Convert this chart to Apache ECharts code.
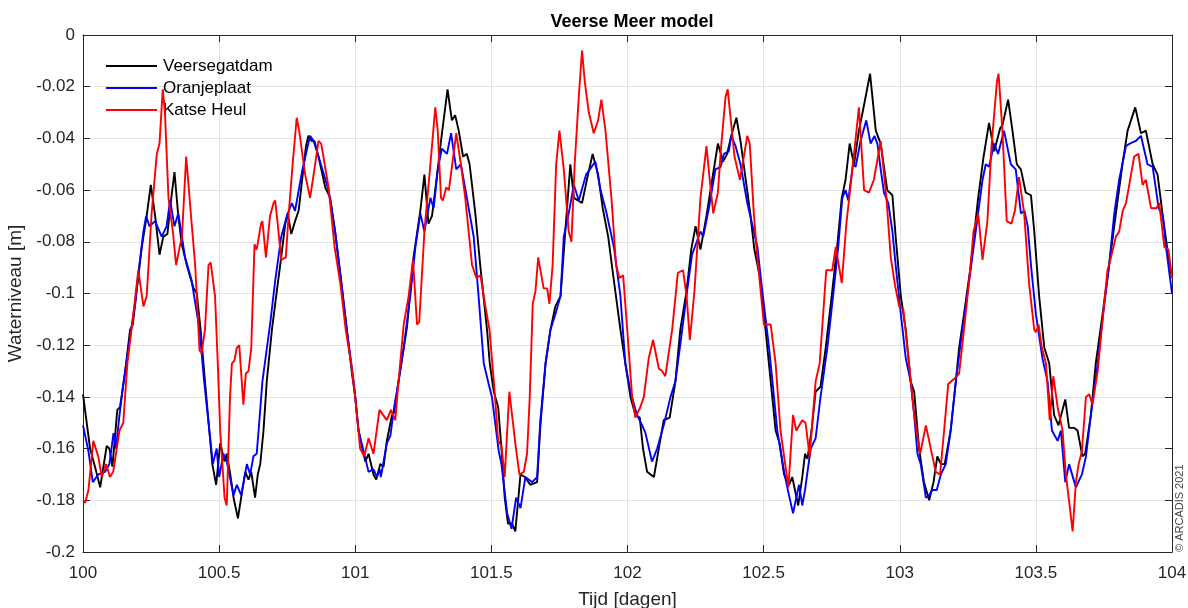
<!DOCTYPE html>
<html>
<head>
<meta charset="utf-8">
<script src="https://cdn.jsdelivr.net/npm/echarts@6/dist/echarts.min.js"></script>
<style>
html,body{margin:0;padding:0;background:#fff;}
#chart{width:1188px;height:608px;}
</style>
</head>
<body>
<div id="chart"></div>
<script>
// ---- data (time in days, water level in m) ----
const seriesNames = ['Veersegatdam', 'Oranjeplaat', 'Katse Heul'];
const xTicks = [100, 100.5, 101, 101.5, 102, 102.5, 103, 103.5, 104];
const yTicks = [0, -0.02, -0.04, -0.06, -0.08, -0.1, -0.12, -0.14, -0.16, -0.18, -0.2];

const veersegatdamT = [100.000,100.026,100.044,100.063,100.087,100.097,100.108,100.126,100.136,100.154,100.173,100.183,100.197,100.216,100.234,100.249,100.265,100.281,100.295,100.310,100.322,100.336,100.350,100.363,100.381,100.406,100.418,100.432,100.448,100.464,100.475,100.489,100.504,100.520,100.528,100.541,100.553,100.569,100.581,100.596,100.608,100.618,100.632,100.642,100.651,100.663,100.675,100.694,100.712,100.728,100.743,100.752,100.765,100.779,100.792,100.806,100.819,100.828,100.840,100.850,100.865,100.890,100.908,100.926,100.948,100.969,100.988,101.000,101.012,101.037,101.049,101.067,101.077,101.092,101.104,101.116,101.135,101.143,101.159,101.178,101.190,101.202,101.214,101.239,101.254,101.269,101.282,101.303,101.315,101.339,101.355,101.367,101.380,101.396,101.410,101.420,101.441,101.459,101.484,101.494,101.509,101.525,101.537,101.549,101.561,101.576,101.588,101.607,101.623,101.643,101.668,101.680,101.699,101.717,101.735,101.754,101.770,101.790,101.803,101.833,101.855,101.872,101.892,101.909,101.929,101.950,101.974,101.992,102.011,102.029,102.045,102.057,102.072,102.097,102.115,102.133,102.155,102.176,102.194,102.217,102.234,102.250,102.268,102.290,102.311,102.332,102.351,102.366,102.381,102.400,102.415,102.433,102.452,102.466,102.489,102.507,102.526,102.544,102.559,102.575,102.593,102.605,102.627,102.642,102.652,102.661,102.676,102.691,102.709,102.728,102.750,102.771,102.787,102.801,102.816,102.832,102.850,102.869,102.891,102.912,102.930,102.954,102.973,102.985,103.004,103.022,103.040,103.053,103.071,103.089,103.108,103.124,103.138,103.151,103.165,103.187,103.206,103.218,103.236,103.261,103.288,103.308,103.328,103.347,103.369,103.377,103.398,103.414,103.430,103.445,103.463,103.482,103.494,103.512,103.531,103.549,103.567,103.583,103.608,103.622,103.641,103.653,103.671,103.681,103.702,103.720,103.745,103.769,103.794,103.818,103.837,103.865,103.886,103.904,103.929,103.947,103.965,103.987,104.000];
const veersegatdamV = [-0.139,-0.160,-0.167,-0.175,-0.159,-0.160,-0.167,-0.145,-0.144,-0.131,-0.114,-0.112,-0.099,-0.082,-0.070,-0.058,-0.070,-0.085,-0.078,-0.077,-0.065,-0.053,-0.070,-0.081,-0.089,-0.098,-0.100,-0.114,-0.134,-0.153,-0.166,-0.174,-0.158,-0.165,-0.162,-0.170,-0.179,-0.187,-0.179,-0.169,-0.172,-0.169,-0.179,-0.170,-0.166,-0.153,-0.134,-0.114,-0.099,-0.086,-0.073,-0.069,-0.077,-0.072,-0.068,-0.055,-0.043,-0.039,-0.041,-0.041,-0.047,-0.059,-0.063,-0.076,-0.095,-0.114,-0.131,-0.140,-0.153,-0.165,-0.162,-0.170,-0.172,-0.166,-0.167,-0.157,-0.147,-0.146,-0.134,-0.121,-0.113,-0.099,-0.086,-0.068,-0.054,-0.073,-0.070,-0.052,-0.041,-0.021,-0.033,-0.031,-0.037,-0.047,-0.046,-0.050,-0.069,-0.089,-0.114,-0.127,-0.138,-0.144,-0.160,-0.179,-0.189,-0.189,-0.192,-0.170,-0.171,-0.174,-0.173,-0.151,-0.127,-0.114,-0.105,-0.101,-0.078,-0.050,-0.063,-0.065,-0.054,-0.046,-0.054,-0.067,-0.078,-0.095,-0.114,-0.127,-0.140,-0.147,-0.148,-0.160,-0.169,-0.171,-0.160,-0.149,-0.148,-0.134,-0.114,-0.099,-0.083,-0.074,-0.083,-0.070,-0.056,-0.042,-0.049,-0.046,-0.039,-0.032,-0.041,-0.055,-0.070,-0.083,-0.095,-0.114,-0.134,-0.153,-0.158,-0.170,-0.174,-0.171,-0.182,-0.171,-0.162,-0.164,-0.153,-0.138,-0.136,-0.121,-0.101,-0.081,-0.063,-0.056,-0.042,-0.050,-0.037,-0.027,-0.015,-0.037,-0.042,-0.060,-0.062,-0.078,-0.101,-0.114,-0.134,-0.138,-0.160,-0.173,-0.180,-0.173,-0.163,-0.166,-0.166,-0.153,-0.134,-0.121,-0.108,-0.089,-0.063,-0.047,-0.034,-0.045,-0.036,-0.035,-0.025,-0.037,-0.050,-0.052,-0.061,-0.062,-0.076,-0.101,-0.121,-0.127,-0.147,-0.151,-0.141,-0.152,-0.152,-0.153,-0.163,-0.162,-0.147,-0.127,-0.108,-0.089,-0.069,-0.050,-0.037,-0.028,-0.038,-0.037,-0.050,-0.054,-0.069,-0.086,-0.094];

const oranjeplaatT = [100.000,100.020,100.036,100.056,100.081,100.097,100.112,100.121,100.134,100.148,100.167,100.191,100.207,100.222,100.232,100.244,100.265,100.289,100.307,100.320,100.336,100.350,100.375,100.399,100.428,100.445,100.464,100.477,100.491,100.500,100.516,100.528,100.553,100.565,100.581,100.602,100.614,100.626,100.638,100.645,100.659,100.687,100.706,100.728,100.749,100.767,100.779,100.806,100.834,100.847,100.865,100.902,100.926,100.948,100.969,100.994,101.012,101.049,101.067,101.080,101.090,101.094,101.116,101.129,101.143,101.159,101.178,101.202,101.221,101.239,101.254,101.276,101.288,101.303,101.318,101.337,101.352,101.371,101.388,101.410,101.435,101.453,101.472,101.490,101.502,101.527,101.537,101.558,101.574,101.591,101.607,101.625,101.650,101.668,101.680,101.699,101.717,101.735,101.754,101.766,101.784,101.803,101.821,101.848,101.868,101.882,101.901,101.921,101.950,101.974,101.992,102.011,102.035,102.054,102.066,102.090,102.109,102.133,102.158,102.176,102.201,102.219,102.237,102.268,102.278,102.299,102.323,102.342,102.354,102.372,102.381,102.397,102.415,102.440,102.464,102.477,102.495,102.520,102.538,102.550,102.575,102.593,102.608,102.630,102.642,102.652,102.673,102.691,102.709,102.734,102.755,102.774,102.789,102.801,102.811,102.828,102.838,102.856,102.877,102.893,102.907,102.918,102.930,102.942,102.958,102.973,102.985,103.004,103.022,103.040,103.053,103.065,103.077,103.096,103.108,103.120,103.136,103.151,103.169,103.187,103.206,103.230,103.255,103.279,103.304,103.316,103.328,103.347,103.361,103.383,103.408,103.426,103.445,103.458,103.470,103.482,103.500,103.524,103.543,103.559,103.580,103.592,103.608,103.622,103.647,103.669,103.684,103.702,103.727,103.747,103.769,103.788,103.806,103.831,103.845,103.867,103.886,103.910,103.929,103.951,103.966,103.978,104.000];
const oranjeplaatV = [-0.151,-0.161,-0.173,-0.170,-0.169,-0.166,-0.154,-0.160,-0.147,-0.135,-0.121,-0.104,-0.089,-0.076,-0.070,-0.074,-0.072,-0.078,-0.074,-0.064,-0.074,-0.069,-0.086,-0.095,-0.114,-0.134,-0.153,-0.166,-0.160,-0.171,-0.162,-0.165,-0.178,-0.174,-0.178,-0.166,-0.170,-0.163,-0.162,-0.153,-0.134,-0.112,-0.095,-0.078,-0.070,-0.065,-0.068,-0.052,-0.039,-0.041,-0.047,-0.060,-0.076,-0.095,-0.114,-0.134,-0.153,-0.169,-0.168,-0.171,-0.168,-0.171,-0.158,-0.155,-0.144,-0.134,-0.121,-0.101,-0.082,-0.069,-0.076,-0.063,-0.067,-0.052,-0.044,-0.046,-0.038,-0.052,-0.050,-0.063,-0.078,-0.101,-0.127,-0.135,-0.140,-0.161,-0.166,-0.185,-0.191,-0.179,-0.183,-0.171,-0.173,-0.171,-0.149,-0.127,-0.114,-0.108,-0.101,-0.078,-0.069,-0.058,-0.064,-0.054,-0.051,-0.049,-0.060,-0.068,-0.082,-0.101,-0.127,-0.138,-0.147,-0.151,-0.154,-0.165,-0.160,-0.151,-0.140,-0.134,-0.114,-0.099,-0.085,-0.076,-0.078,-0.067,-0.052,-0.051,-0.046,-0.045,-0.039,-0.043,-0.050,-0.065,-0.076,-0.082,-0.099,-0.121,-0.140,-0.153,-0.169,-0.178,-0.185,-0.174,-0.182,-0.176,-0.160,-0.156,-0.140,-0.121,-0.101,-0.082,-0.063,-0.060,-0.064,-0.050,-0.051,-0.041,-0.033,-0.042,-0.039,-0.042,-0.052,-0.061,-0.065,-0.076,-0.089,-0.108,-0.125,-0.134,-0.147,-0.162,-0.166,-0.179,-0.178,-0.176,-0.176,-0.170,-0.166,-0.153,-0.134,-0.114,-0.095,-0.076,-0.056,-0.050,-0.051,-0.042,-0.046,-0.037,-0.050,-0.052,-0.069,-0.068,-0.074,-0.089,-0.108,-0.125,-0.134,-0.153,-0.157,-0.153,-0.173,-0.166,-0.175,-0.170,-0.163,-0.147,-0.127,-0.108,-0.089,-0.069,-0.056,-0.043,-0.042,-0.041,-0.039,-0.050,-0.051,-0.067,-0.070,-0.082,-0.100];

const katseHeulT = [100.000,100.008,100.020,100.038,100.056,100.069,100.085,100.099,100.111,100.134,100.148,100.163,100.185,100.203,100.222,100.234,100.252,100.271,100.281,100.293,100.301,100.314,100.330,100.342,100.357,100.363,100.379,100.396,100.412,100.428,100.436,100.448,100.461,100.469,100.485,100.495,100.504,100.520,100.528,100.540,100.547,100.556,100.565,100.574,100.589,100.598,100.608,100.618,100.630,100.638,100.654,100.659,100.672,100.687,100.700,100.706,100.718,100.728,100.745,100.755,100.770,100.785,100.794,100.816,100.834,100.850,100.865,100.875,100.902,100.924,100.945,100.965,100.985,101.000,101.018,101.033,101.049,101.067,101.089,101.116,101.131,101.147,101.159,101.178,101.196,101.212,101.227,101.235,101.254,101.276,101.294,101.303,101.315,101.322,101.334,101.344,101.371,101.388,101.404,101.429,101.445,101.460,101.478,101.493,101.509,101.525,101.537,101.549,101.566,101.588,101.603,101.619,101.631,101.641,101.652,101.662,101.672,101.692,101.705,101.713,101.725,101.738,101.750,101.766,101.784,101.794,101.806,101.821,101.833,101.843,101.858,101.876,101.892,101.904,101.919,101.941,101.958,101.970,101.984,101.999,102.017,102.029,102.047,102.060,102.078,102.094,102.115,102.127,102.139,102.164,102.185,102.204,102.217,102.229,102.246,102.268,102.290,102.302,102.315,102.332,102.344,102.360,102.368,102.393,102.413,102.440,102.449,102.464,102.476,102.501,102.526,102.544,102.562,102.591,102.608,102.620,102.642,102.654,102.669,102.691,102.706,102.730,102.752,102.765,102.787,102.804,102.826,102.850,102.869,102.887,102.905,102.930,102.951,102.967,102.983,102.998,103.013,103.034,103.053,103.075,103.096,103.114,103.132,103.148,103.163,103.178,103.200,103.218,103.236,103.255,103.271,103.288,103.304,103.322,103.337,103.357,103.363,103.377,103.393,103.410,103.423,103.438,103.445,103.457,103.475,103.494,103.500,103.510,103.522,103.537,103.551,103.564,103.580,103.598,103.610,103.625,103.635,103.647,103.657,103.669,103.684,103.696,103.708,103.727,103.747,103.763,103.776,103.794,103.806,103.819,103.831,103.843,103.861,103.877,103.892,103.904,103.923,103.943,103.953,103.972,103.987,104.000];
const katseHeulV = [-0.180,-0.181,-0.176,-0.157,-0.163,-0.171,-0.166,-0.171,-0.169,-0.153,-0.150,-0.127,-0.108,-0.091,-0.105,-0.101,-0.069,-0.046,-0.042,-0.021,-0.030,-0.063,-0.076,-0.089,-0.081,-0.079,-0.047,-0.069,-0.089,-0.122,-0.123,-0.114,-0.089,-0.088,-0.101,-0.127,-0.153,-0.179,-0.182,-0.140,-0.127,-0.126,-0.121,-0.120,-0.143,-0.131,-0.130,-0.121,-0.081,-0.083,-0.073,-0.072,-0.086,-0.070,-0.065,-0.064,-0.076,-0.087,-0.086,-0.070,-0.050,-0.032,-0.037,-0.054,-0.063,-0.052,-0.041,-0.042,-0.059,-0.082,-0.096,-0.114,-0.127,-0.140,-0.160,-0.163,-0.156,-0.162,-0.145,-0.149,-0.145,-0.149,-0.134,-0.112,-0.101,-0.087,-0.112,-0.111,-0.076,-0.050,-0.028,-0.037,-0.063,-0.064,-0.059,-0.060,-0.038,-0.050,-0.063,-0.089,-0.094,-0.093,-0.105,-0.114,-0.134,-0.157,-0.159,-0.171,-0.138,-0.158,-0.170,-0.169,-0.162,-0.140,-0.104,-0.099,-0.086,-0.098,-0.098,-0.104,-0.089,-0.050,-0.037,-0.052,-0.076,-0.080,-0.050,-0.024,-0.006,-0.018,-0.030,-0.038,-0.033,-0.025,-0.037,-0.063,-0.089,-0.094,-0.093,-0.114,-0.140,-0.148,-0.144,-0.140,-0.125,-0.118,-0.129,-0.130,-0.132,-0.114,-0.092,-0.091,-0.101,-0.118,-0.099,-0.063,-0.043,-0.056,-0.069,-0.061,-0.043,-0.024,-0.021,-0.047,-0.056,-0.039,-0.042,-0.069,-0.085,-0.112,-0.112,-0.127,-0.153,-0.175,-0.147,-0.153,-0.149,-0.150,-0.163,-0.134,-0.127,-0.091,-0.091,-0.082,-0.096,-0.073,-0.052,-0.028,-0.060,-0.061,-0.056,-0.041,-0.063,-0.086,-0.097,-0.105,-0.106,-0.127,-0.147,-0.162,-0.151,-0.160,-0.169,-0.170,-0.153,-0.135,-0.133,-0.131,-0.114,-0.095,-0.076,-0.069,-0.087,-0.072,-0.043,-0.018,-0.015,-0.037,-0.072,-0.073,-0.068,-0.055,-0.055,-0.069,-0.096,-0.114,-0.115,-0.112,-0.121,-0.127,-0.149,-0.132,-0.144,-0.153,-0.170,-0.183,-0.192,-0.173,-0.166,-0.161,-0.140,-0.139,-0.143,-0.130,-0.108,-0.091,-0.086,-0.078,-0.076,-0.068,-0.065,-0.058,-0.047,-0.046,-0.058,-0.056,-0.067,-0.067,-0.065,-0.082,-0.083,-0.094];

// ---- build chart ----
const FONT = '"Liberation Sans", Arial, Helvetica, sans-serif';
const AX = '#262626';
function pairs(t, v) { return t.map((x, i) => [x, v[i]]); }
const colors = ['#000000', '#0000ff', '#ff0000'];
const dataSets = [pairs(veersegatdamT, veersegatdamV), pairs(oranjeplaatT, oranjeplaatV), pairs(katseHeulT, katseHeulV)];

const chart = echarts.init(document.getElementById('chart'), null, { renderer: 'canvas' });
const xBase = { type: 'value', min: xTicks[0], max: xTicks[xTicks.length - 1], interval: 0.5 };
const yBase = { type: 'value', min: yTicks[yTicks.length - 1], max: yTicks[0], interval: 0.02 };

chart.setOption({
  animation: false,
  backgroundColor: '#ffffff',
  textStyle: { fontFamily: FONT },
  title: {
    text: 'Veerse Meer model',
    left: 627, top: 8, textAlign: 'center',
    textStyle: { fontFamily: FONT, fontSize: 18, fontWeight: 'bold', color: '#000' }
  },
  legend: {
    data: seriesNames.map(n => ({ name: n, icon: 'rect' })),
    orient: 'vertical',
    left: 106, top: 57,
    padding: 0,
    itemWidth: 51, itemHeight: 2, itemGap: 4,
    textStyle: { fontFamily: FONT, fontSize: 17, lineHeight: 18, color: '#000', padding: [0, 0, 0, 1] }
  },
  grid: { left: 83, right: 16, top: 35, bottom: 56, containLabel: false, outerBoundsMode: 'none' },
  xAxis: [
    Object.assign({}, xBase, {
      position: 'bottom',
      name: 'Tijd [dagen]', nameLocation: 'middle', nameGap: 38,
      nameTextStyle: { fontFamily: FONT, fontSize: 19, color: AX },
      axisLine: { show: true, onZero: false, lineStyle: { color: AX, width: 1 } },
      axisTick: { show: true, inside: true, length: 7, lineStyle: { color: AX } },
      axisLabel: { fontFamily: FONT, fontSize: 17, color: AX, margin: 13, formatter: v => String(Math.round(v * 10) / 10) },
      splitLine: { show: true, lineStyle: { color: '#e3e3e3', width: 1 } }
    }),
    Object.assign({}, xBase, {
      position: 'top',
      axisLine: { show: true, onZero: false, lineStyle: { color: AX, width: 1 } },
      axisTick: { show: true, inside: true, length: 7, lineStyle: { color: AX } },
      axisLabel: { show: false },
      splitLine: { show: false }
    })
  ],
  yAxis: [
    Object.assign({}, yBase, {
      position: 'left',
      name: 'Waterniveau [m]', nameLocation: 'middle', nameGap: 53,
      nameTextStyle: { fontFamily: FONT, fontSize: 19, color: AX },
      axisLine: { show: true, onZero: false, lineStyle: { color: AX, width: 1 } },
      axisTick: { show: true, inside: true, length: 7, lineStyle: { color: AX } },
      axisLabel: { fontFamily: FONT, fontSize: 17, color: AX, margin: 8, formatter: v => String(Math.round(v * 100) / 100 || 0) },
      splitLine: { show: true, lineStyle: { color: '#e3e3e3', width: 1 } }
    }),
    Object.assign({}, yBase, {
      position: 'right',
      axisLine: { show: true, onZero: false, lineStyle: { color: AX, width: 1 } },
      axisTick: { show: true, inside: true, length: 7, lineStyle: { color: AX } },
      axisLabel: { show: false },
      splitLine: { show: false }
    })
  ],
  graphic: [{
    type: 'text',
    x: 1180, y: 552,
    rotation: Math.PI / 2,
    style: { text: '© ARCADIS 2021', fontFamily: FONT, fontSize: 11, fill: '#444', align: 'left', verticalAlign: 'middle' }
  }],
  series: seriesNames.map((n, i) => ({
    name: n,
    type: 'line',
    xAxisIndex: 0, yAxisIndex: 0,
    data: dataSets[i],
    symbol: 'none', showSymbol: false,
    clip: true,
    lineStyle: { color: colors[i], width: 1.9 },
    itemStyle: { color: colors[i] },
    z: 2 + i
  }))
});
</script>
</body>
</html>
